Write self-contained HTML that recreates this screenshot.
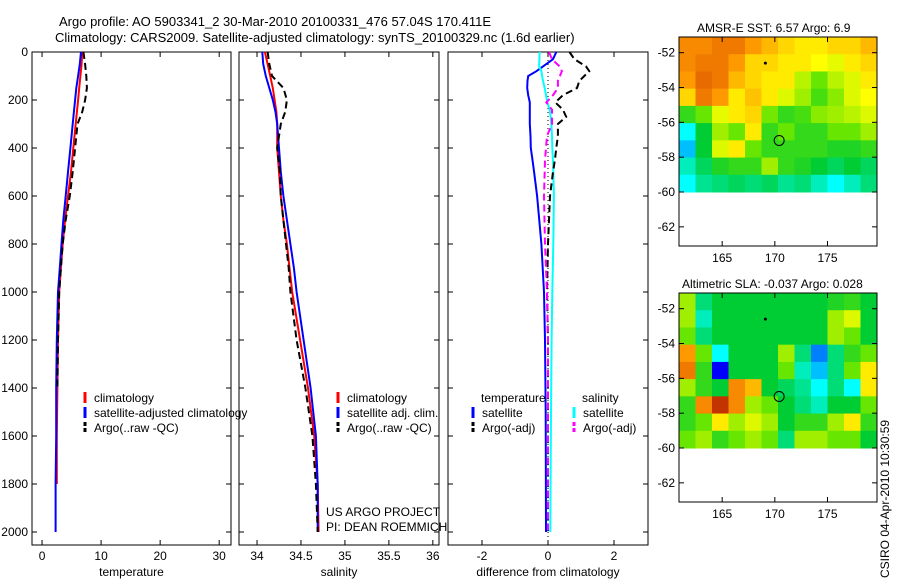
<!DOCTYPE html>
<html><head><meta charset="utf-8"><style>
body{margin:0;background:#fff}
svg{font-family:"Liberation Sans",sans-serif;font-size:12px}
</style></head><body>
<svg id="s" width="900" height="580" viewBox="0 0 900 580">
<text x="59" y="26" font-size="13">Argo profile: AO 5903341_2 30-Mar-2010 20100331_476 57.04S 170.411E</text>
<text x="55" y="42" font-size="13">Climatology: CARS2009. Satellite-adjusted climatology: synTS_20100329.nc (1.6d earlier)</text>
<text x="697" y="32" font-size="12">AMSR-E SST: 6.57 Argo: 6.9</text>
<text x="682" y="288" font-size="12">Altimetric SLA: -0.037 Argo: 0.028</text>
<text transform="translate(889,578) rotate(-90)" font-size="12">CSIRO 04-Apr-2010 10:30:59</text>
<text x="326" y="516">US ARGO PROJECT</text>
<text x="326" y="531">PI: DEAN ROEMMICH</text>
</svg>
<script>
const depths=[0,50,100,150,200,250,300,400,500,600,700,800,900,1000,1200,1400,1600,1800,2000];
const tClim=[6.8,6.7,6.5,6.3,6.1,5.9,5.7,5.3,4.9,4.4,3.9,3.5,3.2,2.9,2.7,2.6,2.5,2.5,2.5];
const tSat=[6.6,6.4,6.1,5.8,5.6,5.4,5.2,4.8,4.4,4.0,3.6,3.3,3.0,2.7,2.5,2.4,2.4,2.3,2.3];
const tArgo=[7.0,7.3,7.5,7.6,7.3,6.8,6.0,5.6,5.2,4.7,4.0,3.5,3.2,2.9,2.7,2.6,2.5,2.5,2.5];
const sClim=[34.09,34.12,34.15,34.18,34.2,34.22,34.23,34.23,34.25,34.27,34.3,34.34,34.37,34.4,34.49,34.58,34.65,34.69,34.7];
const sSat=[34.06,34.07,34.1,34.14,34.18,34.21,34.23,34.25,34.27,34.3,34.34,34.38,34.42,34.45,34.53,34.61,34.67,34.69,34.69];
const sArgo=[34.12,34.14,34.17,34.3,34.34,34.32,34.27,34.23,34.26,34.27,34.3,34.33,34.36,34.38,34.45,34.55,34.63,34.67,34.69];
const dDepths=[0,30,60,80,100,120,150,180,210,240,270,300,350,400,450,500,600,800,1000,1200,1500,2000];
const dTSat=[0.25,0.15,-0.15,-0.35,-0.6,-0.62,-0.63,-0.6,-0.55,-0.55,-0.55,-0.55,-0.53,-0.52,-0.47,-0.42,-0.33,-0.2,-0.12,-0.09,-0.07,-0.06];
const dSSat=[-0.25,-0.26,-0.27,-0.2,-0.18,-0.15,-0.1,-0.06,-0.02,0.05,0.08,0.1,0.12,0.13,0.15,0.16,0.18,0.16,0.13,0.11,0.09,0.07];
const dTArgo=[0.65,0.8,1.15,1.25,1.1,0.95,0.88,0.45,0.22,0.45,0.55,0.3,0.3,0.25,0.21,0.15,0.06,0.0,-0.03,0.0,0.0,0.0];
const dSArgo=[0.03,0.12,0.35,0.42,0.36,0.3,0.3,0.15,-0.05,0.12,0.12,0.12,-0.03,-0.06,-0.09,-0.1,-0.12,-0.09,-0.03,0.0,0.0,0.0];
const sstGrid=[
[0.8,0.8,0.82,0.82,0.78,0.75,0.72,0.7,0.7,0.72,0.72,0.75],
[0.8,0.82,0.82,0.78,0.72,0.72,0.7,0.7,0.68,0.66,0.7,0.72],
[0.78,0.84,0.82,0.75,0.72,0.7,0.7,0.62,0.55,0.62,0.65,0.7],
[0.72,0.82,0.78,0.7,0.74,0.7,0.65,0.6,0.52,0.58,0.65,0.68],
[0.5,0.55,0.66,0.7,0.72,0.56,0.5,0.52,0.58,0.6,0.62,0.65],
[0.3,0.45,0.6,0.55,0.7,0.5,0.55,0.5,0.5,0.55,0.55,0.6],
[0.25,0.45,0.65,0.7,0.55,0.5,0.5,0.5,0.5,0.48,0.48,0.5],
[0.35,0.42,0.48,0.5,0.5,0.6,0.5,0.48,0.45,0.42,0.45,0.42],
[0.3,0.38,0.4,0.42,0.4,0.42,0.38,0.4,0.35,0.3,0.35,0.4]];
const slaGrid=[
[0.6,0.4,0.45,0.45,0.45,0.45,0.45,0.45,0.45,0.48,0.5,0.45],
[0.6,0.35,0.45,0.45,0.45,0.45,0.45,0.45,0.45,0.6,0.65,0.45],
[0.55,0.4,0.45,0.45,0.45,0.45,0.45,0.45,0.45,0.6,0.55,0.45],
[0.78,0.55,0.3,0.45,0.45,0.45,0.6,0.4,0.2,0.4,0.5,0.55],
[0.82,0.5,0.1,0.45,0.45,0.45,0.55,0.35,0.25,0.4,0.55,0.7],
[0.6,0.5,0.45,0.8,0.75,0.45,0.42,0.38,0.3,0.4,0.3,0.7],
[0.5,0.8,0.92,0.8,0.6,0.55,0.45,0.4,0.35,0.45,0.45,0.55],
[0.5,0.55,0.7,0.6,0.65,0.6,0.45,0.5,0.5,0.6,0.7,0.5],
[0.55,0.6,0.5,0.55,0.6,0.55,0.4,0.6,0.6,0.55,0.55,0.45]];
const depthTicks=[0,200,400,600,800,1000,1200,1400,1600,1800,2000];
const tTicks=[0,10,20,30];
const sTicks=[34,34.5,35,35.5,36];
const sTickLabels=["34","34.5","35","35.5","36"];
const dTicks=[-2,0,2];
const lonTicks=[165,170,175];
const latTicks=[-52,-54,-56,-58,-60,-62];
const argoLon=170.41, argoLat=-57.04, dotLon=169.1, dotLat=-52.6;

const svg=document.getElementById('s');
const NS='http://www.w3.org/2000/svg';
function mk(tag,at,parent){const e=document.createElementNS(NS,tag);for(const k in at)e.setAttribute(k,at[k]);(parent||svg).appendChild(e);return e;}
const Y0=52,Y1=545;
const yD=d=>52+d*0.24;
const panels=[
 {x0:32,x1:231,min:-1.7,max:32,ticks:tTicks,labels:tTicks.map(String),title:'temperature',name:'temperature-panel'},
 {x0:239,x1:439,min:33.795,max:36.07,ticks:sTicks,labels:sTickLabels,title:'salinity',name:'salinity-panel'},
 {x0:448,x1:648,min:-3.03,max:3.03,ticks:dTicks,labels:dTicks.map(String),title:'difference from climatology',name:'difference-panel'}];
panels.forEach(p=>{p.sx=v=>p.x0+(v-p.min)/(p.max-p.min)*(p.x1-p.x0);});
function line(xs,ys,sx,col,dash,w,name){
 const pts=xs.map((v,i)=>sx(v).toFixed(1)+','+yD(ys[i]).toFixed(1)).join(' ');
 const e=mk('polyline',{points:pts,fill:'none',stroke:col,'stroke-width':w||2});
 if(dash)e.setAttribute('stroke-dasharray',dash);
 
 
}
panels.forEach((p,pi)=>{
 const r=mk('rect',{x:p.x0,y:Y0,width:p.x1-p.x0,height:Y1-Y0,fill:'none',stroke:'#000'});
 
 
 p.ticks.forEach((t,i)=>{
  const x=p.sx(t);
  mk('line',{x1:x,x2:x,y1:Y0,y2:Y0+5,stroke:'#000'});
  mk('line',{x1:x,x2:x,y1:Y1,y2:Y1-5,stroke:'#000'});
  const tx=mk('text',{x:x,y:Y1+15,'text-anchor':'middle'});tx.textContent=p.labels[i];
  
  
 });
 const at=mk('text',{x:(p.x0+p.x1)/2,y:576,'text-anchor':'middle'});at.textContent=p.title;
 
 
 depthTicks.forEach(d=>{
  mk('line',{x1:p.x0,x2:p.x0+5,y1:yD(d),y2:yD(d),stroke:'#000'});
  mk('line',{x1:p.x1,x2:p.x1-5,y1:yD(d),y2:yD(d),stroke:'#000'});
  if(pi===0){const t=mk('text',{x:p.x0-4,y:yD(d)+4,'text-anchor':'end'});t.textContent=d;
   
   }
 });
});
const P=panels;
line(tClim.slice(0,18),depths.slice(0,18),P[0].sx,'#f00',null,2,'temp-climatology-line');
line(tSat,depths,P[0].sx,'#00f',null,2,'temp-satellite-line');
line(tArgo.slice(0,16),depths.slice(0,16),P[0].sx,'#000','7,4',2,'temp-argo-line');
line(sClim,depths,P[1].sx,'#f00',null,2,'sal-climatology-line');
line(sSat,depths,P[1].sx,'#00f',null,2,'sal-satellite-line');
line(sArgo,depths,P[1].sx,'#000','7,4',2,'sal-argo-line');
const z=mk('line',{x1:P[2].sx(0),x2:P[2].sx(0),y1:Y0,y2:Y1,stroke:'#000','stroke-dasharray':'1,3'});


line(dTSat,dDepths,P[2].sx,'#00f',null,2,'diff-temp-satellite-line');
line(dSSat,dDepths,P[2].sx,'#0ff',null,2,'diff-sal-satellite-line');
line(dTArgo,dDepths,P[2].sx,'#000','7,4',2,'diff-temp-argo-line');
line(dSArgo,dDepths,P[2].sx,'#f0f','7,4',2,'diff-sal-argo-line');
function legend(x,y,col,label,dash){
 const l=mk('line',{x1:x,x2:x,y1:y-10,y2:y+1,stroke:col,'stroke-width':3});
 if(dash)l.setAttribute('stroke-dasharray','4,2');
 
 
 const t=mk('text',{x:x+9,y:y});t.textContent=label;
 
 
}
legend(85,402,'#f00','climatology');legend(85,417,'#00f','satellite-adjusted climatology');legend(85,432,'#000','Argo(..raw -QC)',1);
legend(338,402,'#f00','climatology');legend(338,417,'#00f','satellite adj. clim.');legend(338,432,'#000','Argo(..raw -QC)',1);
const lt=mk('text',{x:481,y:402});lt.textContent='temperature';


const ls=mk('text',{x:582,y:402});ls.textContent='salinity';


legend(473,417,'#00f','satellite');legend(473,432,'#000','Argo(-adj)',1);
legend(574,417,'#0ff','satellite');legend(574,432,'#f0f','Argo(-adj)',1);
// maps
function jet(v){
 const c=[[0,0,0.5],[0,0,1],[0,1,1],[0,0.8,0.2],[0.4,0.9,0],[1,1,0],[1,0.6,0],[0.85,0.3,0],[0.6,0,0]];
 const s=[0,0.1,0.3,0.45,0.55,0.68,0.78,0.88,1];
 let i=0;while(i<s.length-2&&v>s[i+1])i++;
 const f=Math.max(0,Math.min(1,(v-s[i])/(s[i+1]-s[i])));
 return 'rgb('+c[i].map((a,k)=>Math.round(255*(a+(c[i+1][k]-a)*f))).join(',')+')';
}
function map(y0,grid,name){
 const x0=679,x1=877,y1=y0+209;
 const lx=l=>x0+(l-160.9)/(179.7-160.9)*(x1-x0);
 const ly=l=>y0+(-51.1-l)/(63.1-51.1)*(y1-y0);
 const g=mk('g',{});
 const nr=grid.length,nc=grid[0].length,dl=(179.7-160.9)/nc;
 grid.forEach((row,r)=>row.forEach((v,c)=>{
  const xa=lx(160.9+c*dl),xb=lx(160.9+(c+1)*dl),ya=ly(-51.1-r*(8.9/nr)),yb=ly(-51.1-(r+1)*(8.9/nr));
  const e=mk('rect',{x:xa,y:ya,width:xb-xa+0.5,height:yb-ya+0.5,fill:jet(v)},g);
  
  
 }));
 const f=mk('rect',{x:x0,y:y0,width:x1-x0,height:y1-y0,fill:'none',stroke:'#000'});
 
 lonTicks.forEach(l=>{const x=lx(l);
  mk('line',{x1:x,x2:x,y1:y0,y2:y0+5,stroke:'#000'});mk('line',{x1:x,x2:x,y1:y1,y2:y1-5,stroke:'#000'});
  const t=mk('text',{x:x,y:y1+16,'text-anchor':'middle'});t.textContent=l;
  });
 latTicks.forEach(l=>{const y=ly(l);
  mk('line',{x1:x0,x2:x0+5,y1:y,y2:y,stroke:'#000'});mk('line',{x1:x1,x2:x1-5,y1:y,y2:y,stroke:'#000'});
  const t=mk('text',{x:x0-4,y:y+4,'text-anchor':'end'});t.textContent=l;
  });
 const c=mk('circle',{cx:lx(argoLon),cy:ly(argoLat),r:5,fill:'none',stroke:'#000'});
 
 const d=mk('circle',{cx:lx(dotLon),cy:ly(dotLat),r:1.5,fill:'#000'});
 
}
map(37,sstGrid,'sst-map');
map(293,slaGrid,'sla-map');
</script>
</body></html>
